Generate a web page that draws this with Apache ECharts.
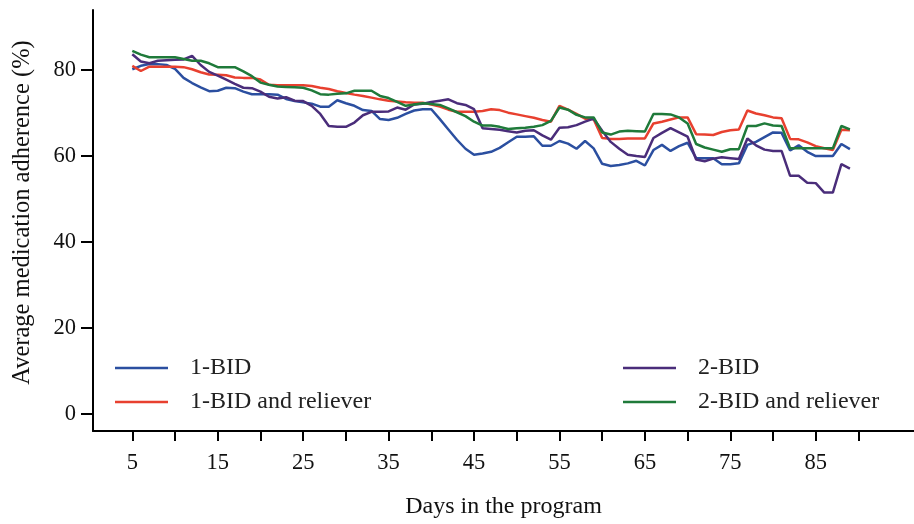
<!DOCTYPE html>
<html>
<head>
<meta charset="utf-8">
<script src="https://cdn.jsdelivr.net/npm/echarts@6/dist/echarts.min.js"></script>
<style>
    html, body { margin: 0; padding: 0; background: #fff; }
    #chart { width: 914px; height: 524px; }
</style>
</head>
<body>
<div id="chart"></div>
<script>
// day in the program, one point per day from day 5
const days = Array.from({length: 85}, (_, i) => i + 5);

const bid1 = [
    80.2, 81.0, 81.4, 81.4, 81.2, 80.3, 78.2, 77.0, 76.0, 75.1,
    75.2, 75.9, 75.8, 75.0, 74.4, 74.4, 74.4, 74.3, 73.3, 72.8,
    72.5, 72.2, 71.5, 71.5, 73.0, 72.3, 71.7, 70.7, 70.5, 68.6,
    68.4, 68.9, 69.8, 70.6, 70.9, 70.9, 68.6, 66.2, 63.8, 61.7,
    60.3, 60.6, 61.0, 61.9, 63.2, 64.5, 64.5, 64.6, 62.4, 62.4,
    63.5, 62.9, 61.7, 63.5, 61.8, 58.2, 57.7, 57.9, 58.3, 58.9,
    57.8, 61.4, 62.6, 61.2, 62.3, 63.1, 59.5, 59.5, 59.5, 58.1,
    58.1, 58.3, 62.6, 63.3, 64.4, 65.5, 65.4, 61.3, 62.5, 61.0,
    60.0, 60.0, 60.0, 62.8, 61.6
];
const bid1Reliever = [
    81.0, 79.8, 80.8, 80.8, 80.8, 80.8, 80.7, 80.2, 79.5, 79.0,
    78.9, 78.8, 78.3, 78.2, 78.2, 77.8, 76.6, 76.5, 76.5, 76.5,
    76.5, 76.3, 75.9, 75.6, 75.1, 74.7, 74.3, 74.0, 73.6, 73.2,
    72.9, 72.7, 72.5, 72.4, 72.4, 72.0, 71.5, 70.8, 70.3, 70.3,
    70.3, 70.5, 70.9, 70.7, 70.1, 69.7, 69.3, 68.9, 68.4, 68.0,
    71.7, 70.8, 69.8, 68.7, 68.6, 64.2, 64.0, 64.0, 64.1, 64.1,
    64.1, 67.6, 68.0, 68.5, 69.0, 69.0, 65.1, 65.0, 64.9, 65.6,
    66.0, 66.2, 70.6, 69.9, 69.5, 69.0, 68.8, 64.0, 63.9, 63.2,
    62.3, 61.8, 61.4, 66.1, 66.0
];
const bid2 = [
    83.7, 82.0, 81.6, 82.2, 82.3, 82.4, 82.5, 83.3, 81.2, 79.6,
    78.7, 77.8, 76.8, 75.9, 75.8, 75.0, 73.8, 73.4, 73.7, 72.9,
    72.8, 71.7, 69.8, 67.0, 66.8, 66.8, 67.8, 69.5, 70.3, 70.3,
    70.4, 71.3, 70.8, 72.0, 72.2, 72.6, 72.9, 73.2, 72.3, 71.9,
    70.9, 66.5, 66.3, 66.1, 65.8, 65.5, 65.9, 66.0, 64.8, 63.8,
    66.6, 66.7, 67.2, 68.0, 68.7, 65.9, 63.3, 61.7, 60.3, 60.0,
    59.8, 64.2, 65.4, 66.5, 65.5, 64.5, 59.2, 58.8, 59.4, 59.7,
    59.5, 59.3, 64.1, 62.5, 61.5, 61.2, 61.2, 55.4, 55.4, 53.8,
    53.7, 51.5, 51.5, 58.1, 57.1
];
const bid2Reliever = [
    84.5, 83.6, 83.0, 83.0, 83.0, 83.0, 82.6, 82.2, 82.2, 81.6,
    80.7, 80.7, 80.7, 79.7, 78.6, 77.1, 76.6, 76.2, 76.1, 76.0,
    75.9, 75.3, 74.4, 74.3, 74.5, 74.6, 75.2, 75.2, 75.2, 74.0,
    73.5, 72.6, 71.7, 72.0, 72.3, 72.1, 71.9, 71.1, 70.2, 69.3,
    68.0, 67.1, 67.1, 66.8, 66.3, 66.5, 66.6, 66.8, 67.2, 68.2,
    71.3, 70.8, 69.6, 69.0, 69.0, 65.5, 65.0, 65.7, 65.9, 65.8,
    65.7, 69.8, 69.8, 69.7, 69.0, 67.6, 62.8, 62.0, 61.5, 61.0,
    61.6, 61.6, 67.0, 67.0, 67.6, 67.1, 67.0, 61.8, 61.8, 61.8,
    61.8, 61.8, 61.8, 67.0, 66.2
];

const xTicks = [5, 10, 15, 20, 25, 30, 35, 40, 45, 50, 55, 60, 65, 70, 75, 80, 85, 90];
const xLabels = [5, 15, 25, 35, 45, 55, 65, 75, 85];
const yTicks = [0, 20, 40, 60, 80];

const FONT = '"Liberation Serif", "Times New Roman", serif';

function line(name, values, color) {
    return {
        name: name,
        type: 'line',
        symbol: 'none',
        data: days.map((d, i) => [d, values[i]]),
        lineStyle: {color: color, width: 2.5},
        itemStyle: {color: color}
    };
}

const chart = echarts.init(document.getElementById('chart'));
const legendBase = {
    orient: 'vertical',
    top: 356,
    padding: 0,
    icon: 'rect',
    itemWidth: 53,
    itemHeight: 2.5,
    itemGap: 10,
    textStyle: {fontFamily: FONT, fontSize: 24, color: '#222', padding: [0, 0, 0, 17]}
};

chart.setOption({
    animation: false,
    grid: {left: 93, right: 0, top: 10, bottom: 93, outerBoundsMode: 'none'},
    legend: [
        Object.assign({left: 115, data: ['1-BID', '1-BID and reliever']}, legendBase),
        Object.assign({left: 623, data: ['2-BID', '2-BID and reliever']}, legendBase)
    ],
    xAxis: {
        type: 'value',
        min: 0.4,
        max: 96.5,
        name: 'Days in the program',
        nameLocation: 'middle',
        nameGap: 64,
        nameTextStyle: {fontFamily: FONT, fontSize: 24, color: '#111'},
        axisLine: {onZero: false, lineStyle: {color: '#000', width: 2}},
        axisTick: {customValues: xTicks, length: 10, lineStyle: {color: '#000', width: 2}},
        axisLabel: {customValues: xLabels, margin: 21, fontFamily: FONT, fontSize: 22.5, color: '#111'},
        splitLine: {show: false}
    },
    yAxis: {
        type: 'value',
        min: -4,
        max: 94,
        name: 'Average medication adherence (%)',
        nameLocation: 'middle',
        nameGap: 58,
        nameTextStyle: {fontFamily: FONT, fontSize: 24.5, color: '#111', padding: [0, 0, 0, 16]},
        axisLine: {show: true, lineStyle: {color: '#000', width: 2}},
        axisTick: {show: true, customValues: yTicks, length: 12, lineStyle: {color: '#000', width: 2}},
        axisLabel: {customValues: yTicks, margin: 17, fontFamily: FONT, fontSize: 22.5, color: '#111'},
        splitLine: {show: false}
    },
    series: [
        line('1-BID', bid1, '#2b4fa0'),
        line('1-BID and reliever', bid1Reliever, '#e8402f'),
        line('2-BID', bid2, '#4a2d7a'),
        line('2-BID and reliever', bid2Reliever, '#1f7a3a')
    ]
});

window.addEventListener('resize', function () {
    chart.resize();
});
</script>
</body>
</html>
